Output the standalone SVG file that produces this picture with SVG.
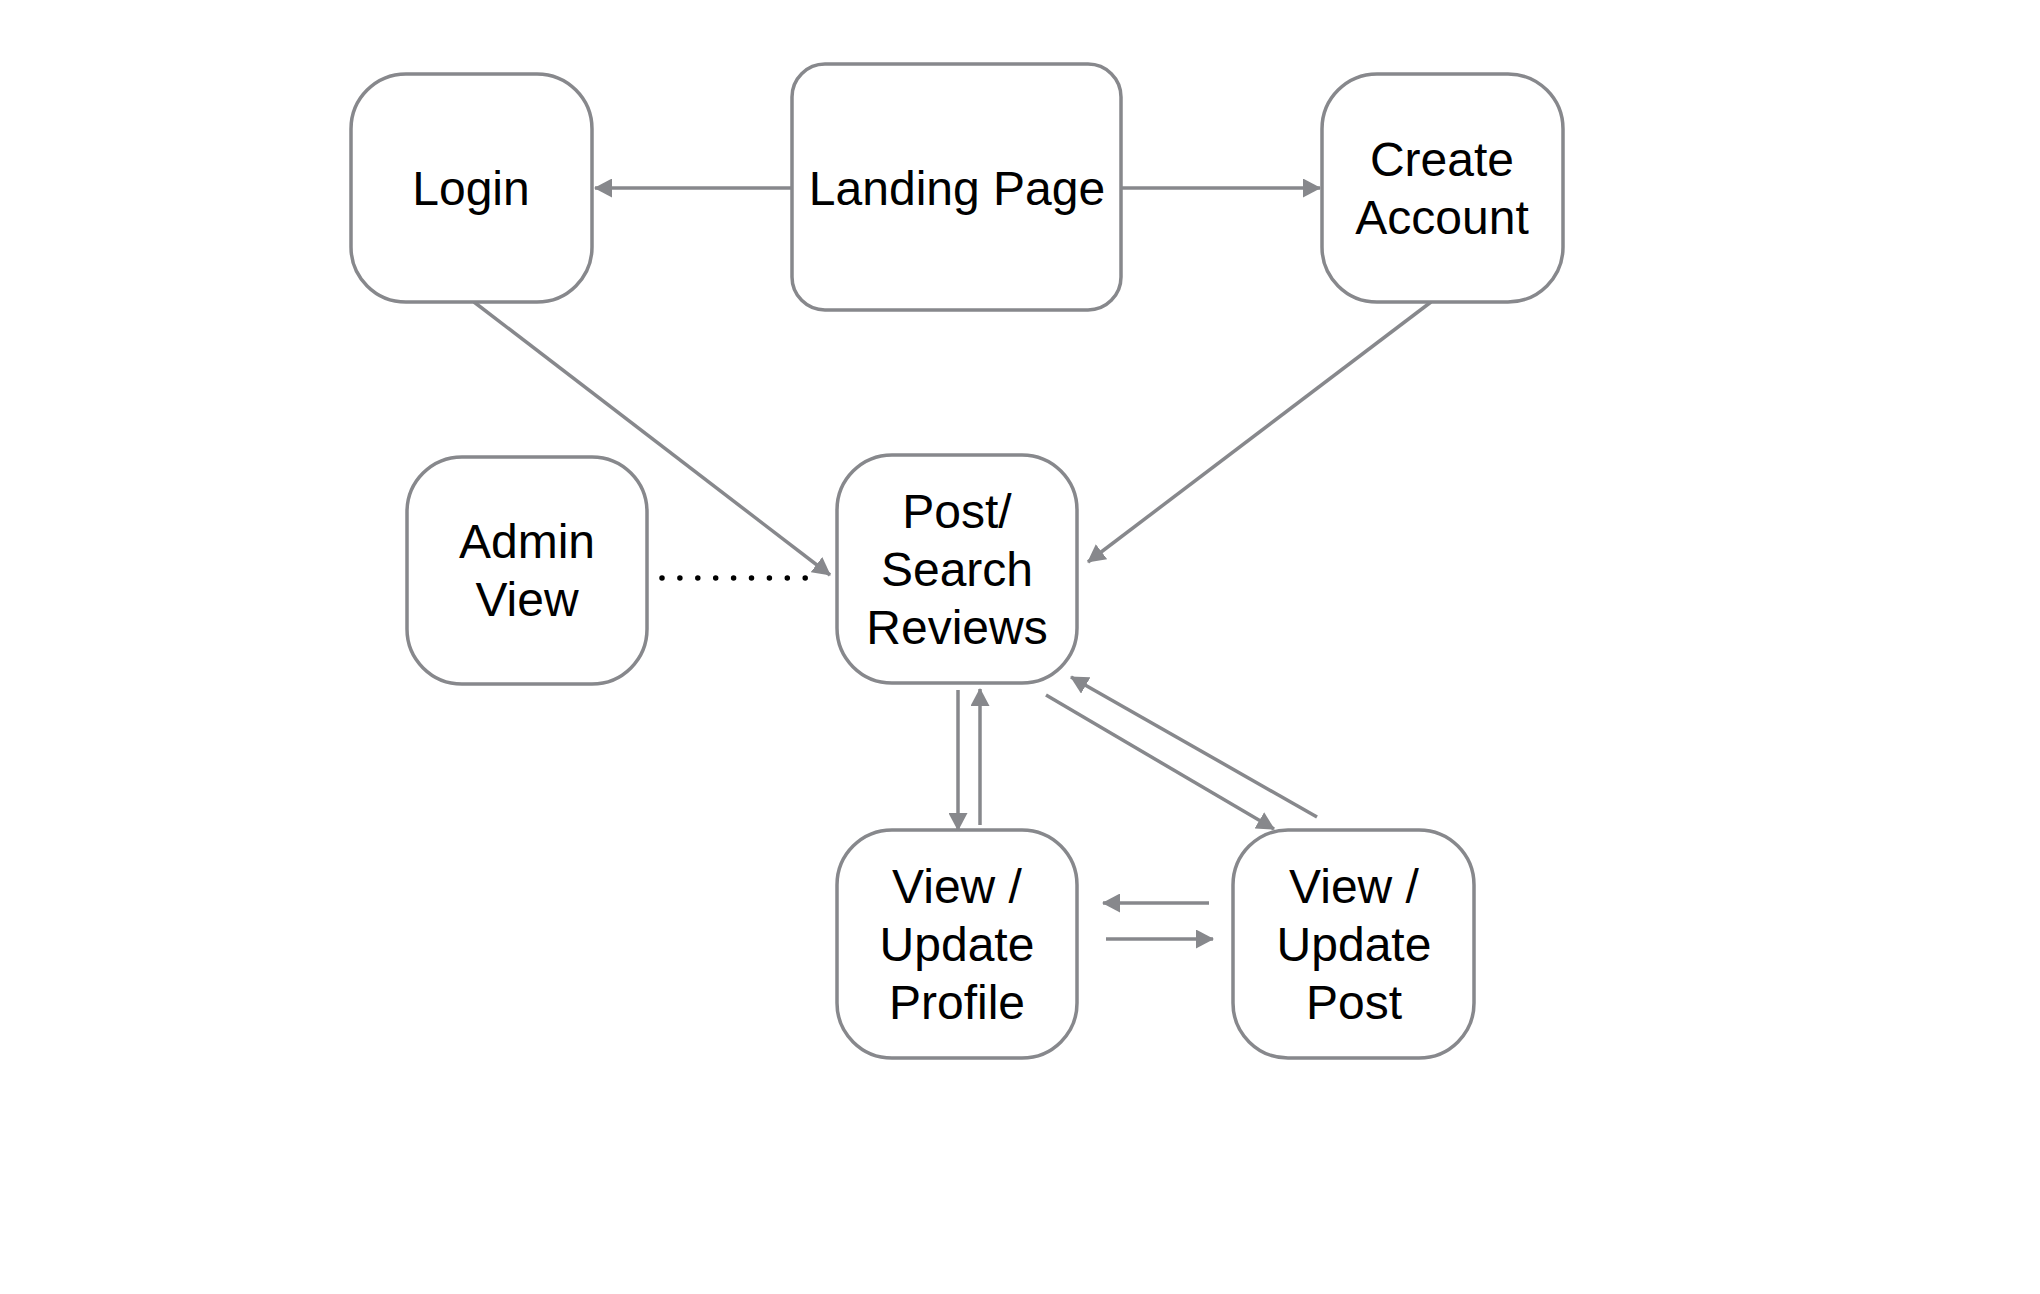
<svg xmlns="http://www.w3.org/2000/svg" width="2040" height="1294" viewBox="0 0 2040 1294">
<defs>
<style>
.node rect{fill:#fff;stroke:#87888c;stroke-width:3.5}
.node text{font-family:"Liberation Sans",Arial,sans-serif;font-size:48px;fill:#000;text-anchor:middle}
.conn line{stroke:#87888c;stroke-width:3.5;fill:none}
.conn line.arr{marker-end:url(#ah)}
.conn line.dot{stroke:#000;stroke-width:5.5;stroke-dasharray:0 17.9;stroke-linecap:round}
</style>
<marker id="ah" viewBox="0 0 18 19" refX="17" refY="9.5" markerWidth="18" markerHeight="19" markerUnits="userSpaceOnUse" orient="auto">
<path d="M0,0 L18,9.5 L0,19 z" fill="#87888c"/>
</marker>
</defs>
<rect width="2040" height="1294" fill="#fff"/>
<g class="conn" id="connectors">
<line class="arr" x1="792" y1="188" x2="595" y2="188"/>
<line class="arr" x1="1121" y1="188" x2="1320" y2="188"/>
<line class="arr" x1="474" y1="302" x2="830" y2="575"/>
<line class="arr" x1="1431" y1="302" x2="1088" y2="562"/>
<line class="dot" x1="662" y1="578" x2="823" y2="578"/>
<line class="arr" x1="958" y1="690" x2="958" y2="830"/>
<line class="arr" x1="980" y1="825" x2="980" y2="689"/>
<line class="arr" x1="1046" y1="695" x2="1274" y2="829"/>
<line class="arr" x1="1317" y1="817" x2="1071" y2="677"/>
<line class="arr" x1="1209" y1="903" x2="1103" y2="903"/>
<line class="arr" x1="1106" y1="939" x2="1213" y2="939"/>
</g>
<g class="node" id="login"><rect x="351" y="74" width="241" height="228" rx="55"/><text x="471" y="205">Login</text></g>
<g class="node" id="landing"><rect x="792" y="64" width="329" height="246" rx="33"/><text x="957" y="205">Landing Page</text></g>
<g class="node" id="create"><rect x="1322" y="74" width="241" height="228" rx="55"/><text x="1442" y="176">Create</text><text x="1442" y="234">Account</text></g>
<g class="node" id="admin"><rect x="407" y="457" width="240" height="227" rx="55"/><text x="527" y="558">Admin</text><text x="527" y="616">View</text></g>
<g class="node" id="search"><rect x="837" y="455" width="240" height="228" rx="55"/><text x="957" y="528">Post/</text><text x="957" y="586">Search</text><text x="957" y="644">Reviews</text></g>
<g class="node" id="profile"><rect x="837" y="830" width="240" height="228" rx="55"/><text x="957" y="903">View /</text><text x="957" y="961">Update</text><text x="957" y="1019">Profile</text></g>
<g class="node" id="post"><rect x="1233" y="830" width="241" height="228" rx="55"/><text x="1354" y="903">View /</text><text x="1354" y="961">Update</text><text x="1354" y="1019">Post</text></g>
</svg>
